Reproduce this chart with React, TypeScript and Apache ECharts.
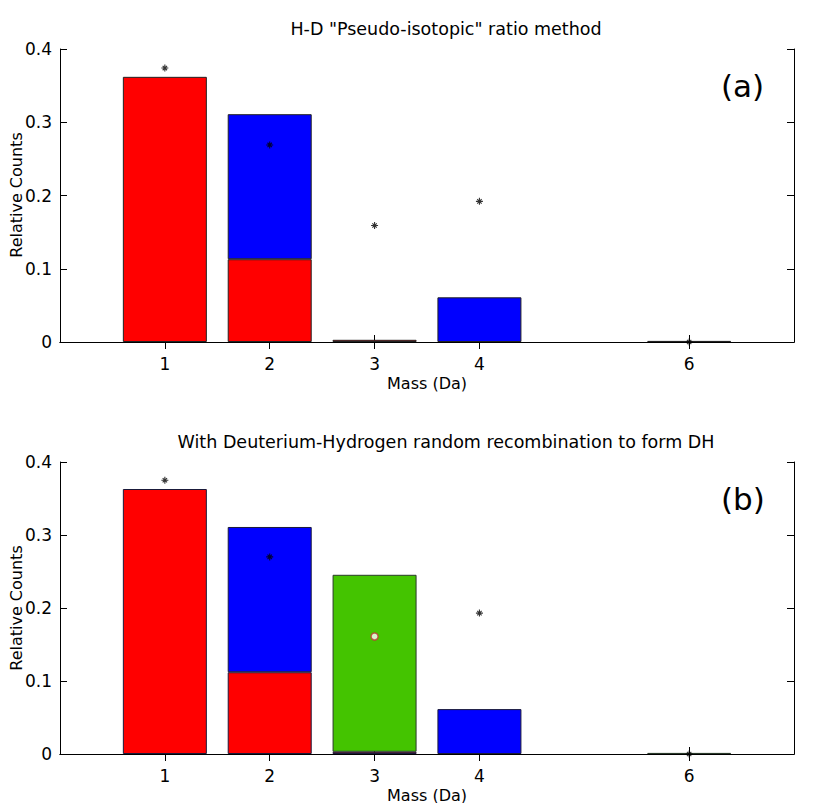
import React, { useEffect, useRef } from "react";
import * as echarts from "echarts";

const massCategories = ["0", "1", "2", "3", "4", "5", "6", "7"];
const shownTicks = ["1", "2", "3", "4", "6"];

// Panel (a)
const aRed = ["-", 0.362, 0.113, 0.003, "-", "-", "-", "-"];
const aBlue = ["-", "-", 0.198, "-", 0.061, "-", 0.0015, "-"];
const aStars = ["-", 0.374, 0.269, 0.159, 0.192, "-", 0.0, "-"];

// Panel (b)
const bRed = ["-", 0.363, 0.112, 0.003, "-", "-", "-", "-"];
const bBlue = ["-", "-", 0.199, "-", 0.0615, "-", "-", "-"];
const bGreen = ["-", "-", "-", 0.2425, "-", "-", 0.0015, "-"];
const bStars = ["-", 0.375, 0.27, "-", 0.193, "-", 0.0, "-"];
const bCircle = ["-", "-", "-", 0.161, "-", "-", "-", "-"];

const yTicks = { min: 0, max: 0.4, interval: 0.1 };

const FONT = "DejaVu Sans";
const STAR =
  "path://M4.2,0H5.8V10H4.2Z M0,4.2H10V5.8H0Z M1.3,2.4L2.4,1.3L8.7,7.6L7.6,8.7Z M7.6,1.3L8.7,2.4L2.4,8.7L1.3,7.6Z";

export default function App() {
  const ref = useRef<HTMLDivElement>(null);
  useEffect(() => {
    if (!ref.current) return;
    const chart = echarts.init(ref.current, null, { renderer: "svg" });
    const showFn = (_i: number, v: string) => shownTicks.includes(v);
    const grids = [
      { left: 60, top: 49, width: 734, height: 293, containLabel: false, outerBoundsMode: "none" },
      { left: 60, top: 462, width: 734, height: 292, containLabel: false, outerBoundsMode: "none" },
    ];
    const xAxes: any[] = [];
    const yAxes: any[] = [];
    grids.forEach((_g, gi) => {
      xAxes.push({
        type: "category",
        gridIndex: gi,
        data: massCategories,
        boundaryGap: false,
        position: "bottom",
        name: "Mass (Da)",
        nameLocation: "middle",
        nameGap: 33,
        nameMoveOverlap: false,
        nameTextStyle: { fontFamily: FONT, fontSize: 16, color: "#000" },
        axisLine: { show: true, lineStyle: { color: "#000", width: 1 } },
        axisTick: { show: true, inside: true, length: 7, interval: showFn, lineStyle: { color: "#000" } },
        axisLabel: { show: true, interval: showFn, margin: 13, fontFamily: FONT, fontSize: 17, color: "#000" },
        splitLine: { show: false },
      });
      xAxes.push({
        type: "category",
        gridIndex: gi,
        data: massCategories,
        boundaryGap: false,
        position: "top",
        axisLine: { show: true, lineStyle: { color: "#000", width: 1 } },
        axisTick: { show: true, inside: true, length: 7, interval: showFn, lineStyle: { color: "#000" } },
        axisLabel: { show: false },
        splitLine: { show: false },
      });
      yAxes.push({
        type: "value",
        gridIndex: gi,
        ...yTicks,
        position: "left",
        axisLine: { show: true, lineStyle: { color: "#000", width: 1 } },
        axisTick: { show: true, inside: true, length: 7, lineStyle: { color: "#000" } },
        axisLabel: { fontFamily: FONT, fontSize: 17, color: "#000", margin: 8 },
        splitLine: { show: false },
      });
      yAxes.push({
        type: "value",
        gridIndex: gi,
        ...yTicks,
        position: "right",
        axisLine: { show: true, lineStyle: { color: "#000", width: 1 } },
        axisTick: { show: true, inside: true, length: 7, lineStyle: { color: "#000" } },
        axisLabel: { show: false },
        splitLine: { show: false },
      });
    });

    const bar = (data: any[], color: string, gi: number, stack: string, border = "#222") => ({
      type: "bar",
      xAxisIndex: gi * 2,
      yAxisIndex: gi * 2,
      stack,
      data,
      barWidth: 84,
      itemStyle: { color, borderColor: border, borderWidth: 1 },
    });
    const stars = (data: any[], gi: number) => ({
      type: "scatter",
      xAxisIndex: gi * 2,
      yAxisIndex: gi * 2,
      data,
      symbol: STAR,
      symbolSize: 7,
      clip: false,
      z: 5,
      itemStyle: { color: "#000" },
    });

    const yName = (cy: number) => ({
      type: "text",
      x: 16,
      y: cy,
      rotation: Math.PI / 2,
      style: {
        text: "Relative Counts",
        fontFamily: FONT,
        fontSize: 16,
        fill: "#000",
        align: "center",
        verticalAlign: "middle",
      },
    });

    chart.setOption({
      animation: false,
      backgroundColor: "#fff",
      textStyle: { fontFamily: FONT },
      title: [
        {
          text: 'H-D "Pseudo-isotopic" ratio method',
          left: 441,
          textAlign: "center",
          top: 15,
          textStyle: { fontFamily: FONT, fontSize: 17.5, fontWeight: "normal", color: "#000" },
        },
        {
          text: "With Deuterium-Hydrogen random recombination to form DH",
          left: 441,
          textAlign: "center",
          top: 428,
          textStyle: { fontFamily: FONT, fontSize: 17.5, fontWeight: "normal", color: "#000" },
        },
      ],
      graphic: [
        { type: "text", left: 721, top: 70, style: { text: "(a)", fontFamily: FONT, fontSize: 31, fill: "#000" } },
        { type: "text", left: 721, top: 483, style: { text: "(b)", fontFamily: FONT, fontSize: 31, fill: "#000" } },
        yName(195),
        yName(608),
      ],
      grid: grids,
      xAxis: xAxes,
      yAxis: yAxes,
      series: [
        bar(aRed, "#ff0000", 0, "a"),
        bar(aBlue, "#0000ff", 0, "a"),
        stars(aStars, 0),
        bar(bRed, "#ff0000", 1, "b", "#1a1a3a"),
        bar(bBlue, "#0000ff", 1, "b", "#1a1a3a"),
        bar(bGreen, "#44c400", 1, "b", "#2a3a2a"),
        stars(bStars, 1),
        {
          type: "scatter",
          xAxisIndex: 2,
          yAxisIndex: 2,
          data: bCircle,
          symbol: "circle",
          symbolSize: 7,
          z: 5,
          itemStyle: { color: "#fff", borderColor: "#c03a3a", borderWidth: 1.5 },
        },
      ],
    });
    return () => chart.dispose();
  }, []);
  return <div ref={ref} style={{ width: 831, height: 811, margin: -8 }} />;
}
